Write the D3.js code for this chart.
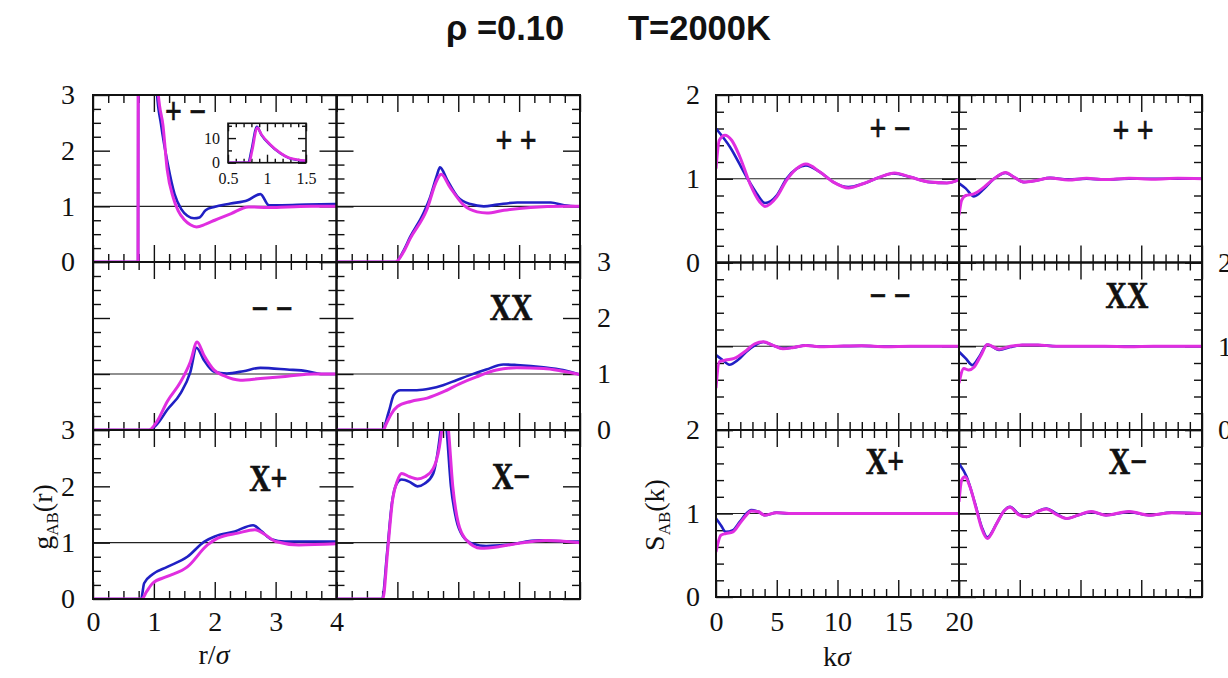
<!DOCTYPE html>
<html>
<head>
<meta charset="utf-8">
<script src="https://cdn.jsdelivr.net/npm/d3@7"></script>
<style>
  body { margin: 0; background: #fff; }
  svg { display: block; }
</style>
</head>
<body>
<svg id="fig" width="1228" height="678"></svg>
<script>
// ---- Pair correlation g_AB(r): [r/σ, g] samples, blue and magenta series ----
const gPlusMinusBlue = [[0,0],[0.74,0],[0.745,6],[0.88,14],[1.0,5.5],[1.05,3.05],[1.115,2.49],[1.23,1.75],[1.34,1.22],[1.45,0.95],[1.55,0.83],[1.66,0.785],[1.75,0.80],[1.85,0.93],[1.99,0.99],[2.26,1.05],[2.54,1.11],[2.75,1.22],[2.89,1.02],[3.1,1.02],[3.5,1.03],[4.0,1.04]];
const gPlusMinusMagenta = [[0,0],[0.74,0],[0.745,6],[0.88,14],[1.0,6],[1.07,3.05],[1.15,2.45],[1.22,1.65],[1.32,1.15],[1.4,0.92],[1.5,0.76],[1.6,0.67],[1.7,0.63],[1.85,0.68],[2.0,0.75],[2.27,0.87],[2.55,0.99],[2.88,0.98],[3.2,0.99],[3.6,1.0],[4.0,1.0]];
const insetBlue = [[0.5,0],[0.76,0],[0.80,5],[0.87,14.6],[0.93,11.2],[1.04,7.2],[1.17,3.8],[1.29,1.8],[1.5,0.7]];
const insetMagenta = [[0.5,0],[0.77,0],[0.81,5],[0.875,14.2],[0.93,11.4],[1.04,7.4],[1.17,4.0],[1.29,1.9],[1.5,0.8]];
const gPlusPlusBlue = [[0,0],[0.97,0],[1.1,0.2],[1.21,0.45],[1.43,0.88],[1.54,1.17],[1.65,1.56],[1.70,1.70],[1.82,1.47],[1.99,1.17],[2.2,1.04],[2.42,1.0],[2.64,1.03],[2.97,1.07],[3.52,1.07],[3.74,1.02],[4.0,1.0]];
const gPlusPlusMagenta = [[0,0],[0.97,0],[1.1,0.18],[1.21,0.42],[1.48,0.93],[1.65,1.47],[1.72,1.575],[1.86,1.35],[2.09,1.02],[2.31,0.90],[2.47,0.88],[2.75,0.93],[3.19,0.98],[3.74,1.0],[4.0,1.0]];
const gMinusMinusBlue = [[0,0],[0.92,0],[1.05,0.1],[1.22,0.36],[1.44,0.66],[1.6,1.04],[1.70,1.47],[1.82,1.25],[1.99,1.04],[2.2,1.01],[2.47,1.05],[2.75,1.11],[3.19,1.08],[3.52,1.05],[3.75,1.0],[4.0,1.0]];
const gMinusMinusMagenta = [[0,0],[0.92,0],[1.05,0.15],[1.22,0.51],[1.44,0.86],[1.6,1.22],[1.71,1.57],[1.82,1.34],[1.99,1.07],[2.15,0.97],[2.42,0.89],[2.75,0.92],[3.19,0.96],[3.63,1.0],[4.0,1.0]];
const gXXBlue = [[0,0],[0.75,0],[0.86,0.33],[0.94,0.625],[1.05,0.71],[1.32,0.71],[1.54,0.74],[1.75,0.80],[1.97,0.89],[2.19,0.98],[2.46,1.08],[2.74,1.17],[2.96,1.16],[3.40,1.12],[3.72,1.07],[4.0,0.99]];
const gXXMagenta = [[0,0],[0.77,0],[0.81,0.09],[0.89,0.27],[1.0,0.42],[1.22,0.51],[1.49,0.57],[1.75,0.68],[2.03,0.83],[2.3,0.95],[2.63,1.07],[2.96,1.11],[3.40,1.10],[3.72,1.05],[4.0,0.99]];
const gXPlusBlue = [[0,0],[0.79,0],[0.84,0.28],[0.98,0.44],[1.22,0.57],[1.55,0.75],[1.83,1.02],[2.0,1.11],[2.33,1.2],[2.63,1.31],[2.77,1.2],[2.93,1.06],[3.15,1.02],[3.59,1.02],[4.0,1.02]];
const gXPlusMagenta = [[0,0],[0.80,0],[0.88,0.13],[0.98,0.28],[1.22,0.40],[1.55,0.57],[1.88,0.96],[2.05,1.08],[2.38,1.17],[2.66,1.23],[2.83,1.14],[3.0,1.02],[3.38,0.96],[4.0,0.98]];
const gXMinusBlue = [[0,0],[0.75,0],[0.83,0.81],[0.91,1.70],[0.99,2.05],[1.07,2.12],[1.2,2.08],[1.33,2.0],[1.45,2.05],[1.59,2.23],[1.66,2.59],[1.71,3.0],[1.75,3.4],[1.80,3.1],[1.88,2.0],[1.97,1.40],[2.08,1.11],[2.24,0.98],[2.46,0.94],[2.79,0.96],[3.33,1.04],[3.93,1.02],[4.0,1.02]];
const gXMinusMagenta = [[0,0],[0.76,0],[0.84,0.85],[0.92,1.75],[1.0,2.1],[1.07,2.23],[1.2,2.17],[1.33,2.13],[1.45,2.17],[1.59,2.32],[1.69,2.7],[1.73,3.0],[1.78,3.4],[1.83,3.1],[1.91,2.0],[2.0,1.35],[2.13,1.05],[2.37,0.90],[2.68,0.93],[3.0,0.99],[3.44,1.04],[4.0,1.0]];

// ---- Structure factors S_AB(k): [kσ, S] samples ----
const sPlusMinusBlue = [[0,1.60],[1.15,1.38],[2.52,1.02],[3.35,0.825],[4.03,0.71],[4.99,0.80],[5.8,1.0],[6.64,1.12],[7.4,1.16],[8.56,1.08],[9.66,0.96],[10.9,0.90],[12.1,0.94],[13.5,1.02],[14.6,1.064],[16.0,1.02],[17.6,0.96],[19.0,0.95],[20,0.99]];
const sPlusMinusMagenta = [[0,1.12],[0.27,1.46],[0.74,1.52],[1.29,1.46],[1.97,1.26],[2.8,0.94],[3.62,0.72],[4.03,0.67],[4.99,0.78],[5.8,0.98],[6.64,1.12],[7.4,1.175],[8.56,1.08],[9.66,0.96],[10.9,0.89],[12.1,0.94],[13.5,1.02],[14.7,1.07],[16.0,1.02],[17.6,0.96],[19.0,0.95],[20,0.99]];
const sPlusPlusBlue = [[0,0.945],[0.55,0.885],[1.23,0.79],[2.06,0.88],[2.88,1.0],[3.84,1.07],[4.52,1.02],[5.35,0.96],[6.4,0.98],[7.5,1.01],[9,0.99],[10.5,1.0],[12,0.99],[14,1.0],[16,1.0],[18,1.0],[20,1.0]];
const sPlusPlusMagenta = [[0,0.565],[0.22,0.745],[0.55,0.80],[1.23,0.82],[2.06,0.90],[2.88,1.0],[3.84,1.075],[4.52,1.02],[5.35,0.96],[6.4,0.98],[7.5,1.01],[9,0.985],[10.5,1.005],[12,0.99],[14,1.005],[16,0.995],[18,1.005],[20,1.0]];
const sMinusMinusBlue = [[0,0.895],[0.55,0.835],[1.1,0.78],[1.8,0.835],[2.5,0.935],[3.2,1.01],[3.9,1.05],[4.7,1.01],[5.5,0.975],[6.4,0.985],[7.4,1.01],[8.5,0.995],[10,1.0],[12,1.005],[14,0.995],[16,1.0],[18,1.0],[20,1.0]];
const sMinusMinusMagenta = [[0,0.50],[0.27,0.815],[0.8,0.835],[1.5,0.855],[2.5,0.95],[3.2,1.03],[3.9,1.055],[4.7,1.01],[5.5,0.97],[6.4,0.985],[7.4,1.01],[8.5,0.995],[10,1.0],[12,1.005],[14,0.995],[16,1.0],[18,1.0],[20,1.0]];
const sXXBlue = [[0,0.935],[0.55,0.855],[1.1,0.775],[1.65,0.87],[2.33,1.02],[3.3,0.955],[4.23,0.99],[5.2,1.015],[6.5,1.015],[8,1.0],[10,1.0],[12,1.0],[14,0.995],[16,1.0],[18,1.0],[20,1.0]];
const sXXMagenta = [[0,0.56],[0.4,0.735],[0.8,0.716],[1.23,0.75],[1.8,0.89],[2.33,1.02],[3.3,0.965],[4.23,1.0],[5.2,1.015],[6.5,1.015],[8,1.0],[10,1.0],[12,1.0],[14,0.995],[16,1.0],[18,1.0],[20,1.0]];
const sXPlusBlue = [[0,0.94],[0.4,0.86],[0.8,0.78],[1.4,0.80],[1.95,0.90],[2.5,1.0],[2.9,1.04],[3.5,1.02],[4.0,0.98],[5.0,1.01],[6,1.0],[8,1.0],[10,1.0],[12,1.0],[14,1.0],[16,1.0],[18,1.0],[20,1.0]];
const sXPlusMagenta = [[0,0.54],[0.4,0.74],[0.8,0.76],[1.4,0.78],[1.95,0.88],[2.5,0.98],[2.9,1.03],[3.5,1.02],[4.0,0.98],[5.0,1.01],[6,1.0],[8,1.0],[10,1.0],[12,1.0],[14,1.0],[16,1.0],[18,1.0],[20,1.0]];
const sXMinusBlue = [[0,1.60],[0.63,1.44],[1.32,1.12],[1.87,0.84],[2.33,0.715],[3.1,0.88],[3.65,1.02],[4.2,1.08],[4.87,1.0],[5.56,0.96],[6.4,1.02],[7.2,1.06],[8.0,1.0],[8.86,0.94],[9.8,0.98],[10.9,1.02],[12.1,0.98],[14.0,1.02],[15.6,0.98],[17.5,1.01],[20,1.0]];
const sXMinusMagenta = [[0,1.14],[0.22,1.40],[0.5,1.44],[0.9,1.32],[1.45,1.04],[1.87,0.82],[2.33,0.70],[3.1,0.88],[3.65,1.02],[4.2,1.075],[4.87,0.99],[5.56,0.96],[6.4,1.02],[7.2,1.055],[8.0,0.99],[8.86,0.94],[9.8,0.98],[10.9,1.025],[12.1,0.98],[14.0,1.025],[15.6,0.98],[17.5,1.01],[20,1.0]];

// ---- Panel labels, ranges and tick labels ----
const pairLabels = ["+ \u2212", "+ +", "\u2212 \u2212", "XX", "X+", "X\u2212"];
const rDomain = [0, 4];
const gDomain = [0, 3];
const kDomain = [0, 20];
const sDomain = [0, 2];
const rTickLabels = [0, 1, 2, 3, 4];
const kTickLabels = [0, 5, 10, 15, 20];
const gTickLabels = [0, 1, 2, 3];
const sTickLabels = [0, 1, 2];
const insetRDomain = [0.5, 1.5];
const insetGDomain = [0, 16];
const insetRLabels = [0.5, 1, 1.5];
const insetGLabels = [0, 10];
const titleParts = ["\u03c1 =0.10", "T=2000K"];

const gSeries = [
  [gPlusMinusBlue, gPlusMinusMagenta], [gPlusPlusBlue, gPlusPlusMagenta],
  [gMinusMinusBlue, gMinusMinusMagenta], [gXXBlue, gXXMagenta],
  [gXPlusBlue, gXPlusMagenta], [gXMinusBlue, gXMinusMagenta]
];
const sSeries = [
  [sPlusMinusBlue, sPlusMinusMagenta], [sPlusPlusBlue, sPlusPlusMagenta],
  [sMinusMinusBlue, sMinusMinusMagenta], [sXXBlue, sXXMagenta],
  [sXPlusBlue, sXPlusMagenta], [sXMinusBlue, sXMinusMagenta]
];

// ---- Layout ----
const BLUE = "#2020c4", MAGENTA = "#e02ee0";
const SERIF = "'Liberation Serif', 'DejaVu Serif', serif";
const svg = d3.select("#fig");

const leftGrid = { cols: [93, 336.5, 580], rows: [95, 262, 430, 599] };
const rightGrid = { cols: [716, 959, 1202], rows: [95, 262.5, 430, 597] };
const leftLabelPos = [[0.38, 0.10], [0.737, 0.27], [0.735, 0.274], [0.717, 0.268], [0.72, 0.284], [0.717, 0.272]];
const rightLabelPos = [[0.716, 0.197], [0.716, 0.209], [0.716, 0.194], [0.691, 0.194], [0.695, 0.19], [0.695, 0.19]];

let clipId = 0;

function range(a, b, step) {
  const out = [];
  const n = Math.round((b - a) / step);
  for (let i = 0; i <= n; i++) out.push(+(a + i * step).toFixed(6));
  return out;
}

function styleAxis(g) {
  g.select(".domain").remove();
  g.selectAll(".tick line").attr("stroke", "#111").attr("stroke-width", 1.4);
  return g;
}

// Inward ticks on all four sides of a frame
function drawTicks(g, x, y, xMinor, xMajor, yMinor, yMajor, minLen, majLen) {
  const [x0, x1] = x.range();
  const [y0, y1] = y.range();
  const sets = [[xMinor, minLen], [xMajor, majLen]];
  const ysets = [[yMinor, minLen], [yMajor, majLen]];
  sets.forEach(([vals, len]) => {
    g.append("g").attr("transform", `translate(0,${y0})`)
      .call(d3.axisBottom(x).tickValues(vals).tickSize(-len).tickSizeOuter(0).tickFormat(""))
      .call(styleAxis);
    g.append("g").attr("transform", `translate(0,${y1})`)
      .call(d3.axisTop(x).tickValues(vals).tickSize(-len).tickSizeOuter(0).tickFormat(""))
      .call(styleAxis);
  });
  ysets.forEach(([vals, len]) => {
    g.append("g").attr("transform", `translate(${x0},0)`)
      .call(d3.axisLeft(y).tickValues(vals).tickSize(-len).tickSizeOuter(0).tickFormat(""))
      .call(styleAxis);
    g.append("g").attr("transform", `translate(${x1},0)`)
      .call(d3.axisRight(y).tickValues(vals).tickSize(-len).tickSizeOuter(0).tickFormat(""))
      .call(styleAxis);
  });
}

function labelAxis(g, axis, transform, size) {
  const a = g.append("g").attr("transform", transform).call(axis);
  a.select(".domain").remove();
  a.selectAll(".tick line").remove();
  a.selectAll("text").attr("font-family", SERIF).attr("font-size", size).attr("fill", "#111");
  return a;
}

function drawPanel(x, y, series, label, labelFrac, xMinor, xMajor, yMinor, yMajor) {
  const g = svg.append("g");
  const [x0, x1] = x.range();
  const [y0, y1] = y.range();
  const id = "clip" + (clipId++);
  svg.append("clipPath").attr("id", id)
    .append("rect").attr("x", x0).attr("y", y1).attr("width", x1 - x0).attr("height", y0 - y1);

  // reference line at 1
  g.append("line").attr("x1", x0).attr("x2", x1).attr("y1", y(1)).attr("y2", y(1))
    .attr("stroke", "#222").attr("stroke-width", 1.2);

  drawTicks(g, x, y, xMinor, xMajor, yMinor, yMajor, 8, 17);

  const line = d3.line().x(d => x(d[0])).y(d => y(d[1])).curve(d3.curveMonotoneX);
  const lines = g.append("g").attr("clip-path", `url(#${id})`);
  lines.append("path").datum(series[0]).attr("d", line)
    .attr("fill", "none").attr("stroke", BLUE).attr("stroke-width", 2.6).attr("stroke-linejoin", "round");
  lines.append("path").datum(series[1]).attr("d", line)
    .attr("fill", "none").attr("stroke", MAGENTA).attr("stroke-width", 3).attr("stroke-linejoin", "round");

  g.append("rect").attr("x", x0).attr("y", y1).attr("width", x1 - x0).attr("height", y0 - y1)
    .attr("fill", "none").attr("stroke", "#111").attr("stroke-width", 2);

  const cx = x0 + labelFrac[0] * (x1 - x0);
  const cy = y1 + labelFrac[1] * (y0 - y1);
  g.append("text").attr("transform", `translate(${cx},${cy}) scale(0.8,1)`)
    .attr("text-anchor", "middle").attr("dominant-baseline", "central")
    .attr("font-family", SERIF).attr("font-weight", "bold").attr("font-size", 37)
    .attr("fill", "#111").attr("stroke", "#111").attr("stroke-width", 0.7).text(label);
  return g;
}

// ---- Left block: g_AB(r) ----
const rMinor = range(0, 4, 0.25).filter(v => v % 1 !== 0);
const rMajor = range(0, 4, 1);
const gMinor = range(0, 3, 0.25).filter(v => v % 1 !== 0);
const gMajor = range(0, 3, 1);

const gScales = [];
for (let i = 0; i < 6; i++) {
  const row = Math.floor(i / 2), col = i % 2;
  const x = d3.scaleLinear().domain(rDomain).range([leftGrid.cols[col], leftGrid.cols[col + 1]]);
  const y = d3.scaleLinear().domain(gDomain).range([leftGrid.rows[row + 1], leftGrid.rows[row]]);
  gScales.push([x, y]);
  drawPanel(x, y, gSeries[i], pairLabels[i], leftLabelPos[i], rMinor, rMajor, gMinor, gMajor);
}

// y tick labels: rows 0 and 2 on the left, row 1 on the right
[0, 4].forEach(i => {
  const [x, y] = gScales[i];
  labelAxis(svg, d3.axisLeft(y).tickValues(gTickLabels).tickSize(0).tickPadding(18).tickFormat(d3.format("d")),
    `translate(${x.range()[0]},0)`, 28);
});
{
  const [x, y] = gScales[3];
  labelAxis(svg, d3.axisRight(y).tickValues(gTickLabels).tickSize(0).tickPadding(17).tickFormat(d3.format("d")),
    `translate(${x.range()[1]},0)`, 28);
}
{
  const [x, y] = gScales[4];
  labelAxis(svg, d3.axisBottom(x).tickValues(rTickLabels).tickSize(0).tickPadding(12).tickFormat(d3.format("d")),
    `translate(0,${y.range()[0]})`, 28);
}

// inset in the +− panel
{
  const ix = d3.scaleLinear().domain(insetRDomain).range([228, 306]);
  const iy = d3.scaleLinear().domain(insetGDomain).range([162.7, 123.3]);
  const g = svg.append("g");
  svg.append("clipPath").attr("id", "insetClip").append("rect")
    .attr("x", 228).attr("y", 123.3).attr("width", 78).attr("height", 39.4);
  g.append("rect").attr("x", 228).attr("y", 123.3).attr("width", 78).attr("height", 39.4).attr("fill", "#fff");
  drawTicks(g, ix, iy, range(0.5, 1.5, 0.1).filter(v => Math.abs(v * 2 - Math.round(v * 2)) > 1e-6),
    insetRLabels, range(0, 15, 5).filter(v => v % 10 !== 0), insetGLabels, 4, 8);
  const line = d3.line().x(d => ix(d[0])).y(d => iy(d[1])).curve(d3.curveMonotoneX);
  const lines = g.append("g").attr("clip-path", "url(#insetClip)");
  lines.append("path").datum(insetBlue).attr("d", line).attr("fill", "none").attr("stroke", BLUE).attr("stroke-width", 2.4);
  lines.append("path").datum(insetMagenta).attr("d", line).attr("fill", "none").attr("stroke", MAGENTA).attr("stroke-width", 2.6);
  g.append("rect").attr("x", 228).attr("y", 123.3).attr("width", 78).attr("height", 39.4)
    .attr("fill", "none").attr("stroke", "#111").attr("stroke-width", 1.6);
  labelAxis(svg, d3.axisLeft(iy).tickValues(insetGLabels).tickSize(0).tickPadding(8).tickFormat(d3.format("d")),
    "translate(228,0)", 16);
  labelAxis(svg, d3.axisBottom(ix).tickValues(insetRLabels).tickSize(0).tickPadding(10).tickFormat(d => String(d)),
    "translate(0,162.7)", 16);
}

// ---- Right block: S_AB(k) ----
const kMinor = range(0, 20, 1).filter(v => v % 5 !== 0);
const kMajor = range(0, 20, 5);
const sMinor = range(0, 2, 0.2).filter(v => Math.abs(v - Math.round(v)) > 1e-6);
const sMajor = range(0, 2, 1);

const sScales = [];
for (let i = 0; i < 6; i++) {
  const row = Math.floor(i / 2), col = i % 2;
  const x = d3.scaleLinear().domain(kDomain).range([rightGrid.cols[col], rightGrid.cols[col + 1]]);
  const y = d3.scaleLinear().domain(sDomain).range([rightGrid.rows[row + 1], rightGrid.rows[row]]);
  sScales.push([x, y]);
  drawPanel(x, y, sSeries[i], pairLabels[i], rightLabelPos[i], kMinor, kMajor, sMinor, sMajor);
}
[0, 4].forEach(i => {
  const [x, y] = sScales[i];
  labelAxis(svg, d3.axisLeft(y).tickValues(sTickLabels).tickSize(0).tickPadding(16).tickFormat(d3.format("d")),
    `translate(${x.range()[0]},0)`, 28);
});
{
  const [x, y] = sScales[3];
  labelAxis(svg, d3.axisRight(y).tickValues(sTickLabels).tickSize(0).tickPadding(16).tickFormat(d3.format("d")),
    `translate(${x.range()[1]},0)`, 28);
}
{
  const [x, y] = sScales[4];
  labelAxis(svg, d3.axisBottom(x).tickValues(kTickLabels).tickSize(0).tickPadding(14).tickFormat(d3.format("d")),
    `translate(0,${y.range()[0]})`, 28);
}

// ---- Axis titles ----
function axisTitle(parts, x, y, rotate) {
  const t = svg.append("text")
    .attr("transform", `translate(${x},${y})` + (rotate ? " rotate(-90)" : ""))
    .attr("text-anchor", "middle").attr("font-family", SERIF).attr("font-size", 28).attr("fill", "#111");
  parts.forEach(p => {
    const s = t.append("tspan").text(p.t);
    if (p.sub) s.attr("font-size", 17).attr("dy", 6);
    if (p.up) s.attr("dy", -6);
    if (p.it) s.attr("font-style", "italic");
  });
}
axisTitle([{ t: "r/" }, { t: "\u03c3", it: true }], 214, 664, false);
axisTitle([{ t: "k" }, { t: "\u03c3", it: true }], 837, 666, false);
axisTitle([{ t: "g" }, { t: "AB", sub: true }, { t: "(r)", up: true }], 52, 517, true);
axisTitle([{ t: "S" }, { t: "AB", sub: true }, { t: "(k)", up: true }], 664, 515, true);

// ---- Title ----
svg.append("text").attr("x", 446).attr("y", 40)
  .attr("font-family", "'Liberation Sans', Arial, sans-serif").attr("font-weight", "bold")
  .attr("font-size", 34.5).attr("fill", "#111").text(titleParts[0]);
svg.append("text").attr("x", 628).attr("y", 40)
  .attr("font-family", "'Liberation Sans', Arial, sans-serif").attr("font-weight", "bold")
  .attr("font-size", 34.5).attr("fill", "#111").text(titleParts[1]);
</script>
</body>
</html>
